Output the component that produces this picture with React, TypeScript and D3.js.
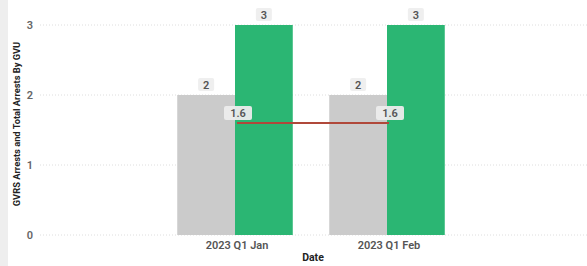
import React, { useEffect, useRef } from 'react';
import * as d3 from 'd3';

const categories = ['2023 Q1 Jan', '2023 Q1 Feb'];
const seriesNames = ['GVRS Arrests', 'Total Arrests By GVU'];
const gvrsArrests = [2, 2];
const totalArrests = [3, 3];
const averageLine = [1.6, 1.6];
const yTicks = [0, 1, 2, 3];

const W = 587;
const H = 266;

function App() {
    const svgRef = useRef<SVGSVGElement>(null);

    useEffect(() => {
        if (!svgRef.current) return;
        const svg = d3.select(svgRef.current);
        svg.selectAll('*').remove();

        const font = 'Roboto, "Noto Sans", sans-serif';

        // left panel strip
        svg.append('rect').attr('x', 0).attr('y', 0).attr('width', 8).attr('height', H).attr('fill', '#eeeeee');

        const xScale = d3.scaleBand().domain(categories).range([159, 463]).paddingInner(0.24).paddingOuter(0.12);
        const sub = d3.scaleBand().domain(seriesNames).range([0, xScale.bandwidth()]);
        const yScale = d3.scaleLinear().domain([0, 3]).range([235, 25]);

        // grid lines
        svg.append('g')
            .selectAll('line')
            .data(yTicks)
            .join('line')
            .attr('x1', 40)
            .attr('x2', W)
            .attr('y1', d => yScale(d))
            .attr('y2', d => yScale(d))
            .attr('stroke', '#dedede')
            .attr('stroke-width', 1)
            .attr('stroke-dasharray', '1,2');

        // y tick labels
        svg.append('g')
            .selectAll('text')
            .data(yTicks)
            .join('text')
            .attr('x', 33)
            .attr('y', d => yScale(d))
            .attr('dy', '0.35em')
            .attr('text-anchor', 'end')
            .attr('font-family', font)
            .attr('font-size', 11)
            .attr('font-weight', 600)
            .attr('fill', '#666')
            .text(d => d);

        const seriesData = [
            { name: seriesNames[0], values: gvrsArrests, color: '#cbcbcb' },
            { name: seriesNames[1], values: totalArrests, color: '#2bb673' },
        ];

        seriesData.forEach(s => {
            const g = svg.append('g');
            g.selectAll('rect')
                .data(s.values)
                .join('rect')
                .attr('x', (d, i) => (xScale(categories[i]) as number) + (sub(s.name) as number))
                .attr('y', d => yScale(d))
                .attr('width', sub.bandwidth())
                .attr('height', d => yScale(0) - yScale(d))
                .attr('fill', s.color);

            // value labels
            s.values.forEach((v, i) => {
                const cx = (xScale(categories[i]) as number) + (sub(s.name) as number) + sub.bandwidth() / 2;
                const cy = yScale(v) - 10;
                g.append('rect')
                    .attr('x', cx - 8)
                    .attr('y', cy - 7)
                    .attr('width', 16)
                    .attr('height', 13)
                    .attr('rx', 2)
                    .attr('fill', '#efefef');
                g.append('text')
                    .attr('x', cx)
                    .attr('y', cy)
                    .attr('dy', '0.35em')
                    .attr('text-anchor', 'middle')
                    .attr('font-family', font)
                    .attr('font-size', 11)
                    .attr('font-weight', 600)
                    .attr('fill', '#555')
                    .text(v);
            });
        });

        // average line
        const lineX = (i: number) => (xScale(categories[i]) as number) + xScale.bandwidth() / 2 + 2;
        const line = d3.line<number>()
            .x((d, i) => lineX(i))
            .y(d => yScale(d));
        svg.append('path')
            .datum(averageLine)
            .attr('fill', 'none')
            .attr('stroke', '#b0483a')
            .attr('stroke-width', 2)
            .attr('d', line);

        averageLine.forEach((v, i) => {
            const cx = lineX(i) + 1;
            const cy = yScale(v) - 10;
            svg.append('rect')
                .attr('x', cx - 14)
                .attr('y', cy - 7)
                .attr('width', 28)
                .attr('height', 14)
                .attr('rx', 2)
                .attr('fill', '#ececec')
                .attr('opacity', 0.95);
            svg.append('text')
                .attr('x', cx)
                .attr('y', cy)
                .attr('dy', '0.35em')
                .attr('text-anchor', 'middle')
                .attr('font-family', font)
                .attr('font-size', 11)
                .attr('font-weight', 600)
                .attr('fill', '#555')
                .text(v);
        });

        // x tick labels
        svg.append('g')
            .selectAll('text')
            .data(categories)
            .join('text')
            .attr('x', d => (xScale(d) as number) + xScale.bandwidth() / 2 + 2)
            .attr('y', 245)
            .attr('dy', '0.35em')
            .attr('text-anchor', 'middle')
            .attr('font-family', font)
            .attr('font-size', 11)
            .attr('font-weight', 600)
            .attr('fill', '#555')
            .text(d => d);

        // axis titles
        svg.append('text')
            .attr('x', 313)
            .attr('y', 257)
            .attr('dy', '0.35em')
            .attr('text-anchor', 'middle')
            .attr('font-family', font)
            .attr('font-size', 10.5)
            .attr('font-weight', 700)
            .attr('fill', '#222')
            .text('Date');

        svg.append('text')
            .attr('transform', `translate(17, 124) rotate(-90)`)
            .attr('dy', '0.35em')
            .attr('text-anchor', 'middle')
            .attr('font-family', font)
            .attr('font-size', 9.3)
            .attr('font-weight', 700)
            .attr('fill', '#222')
            .text('GVRS Arrests and Total Arrests By GVU');
    }, []);

    return <svg ref={svgRef} width={W} height={H} style={{ position: 'absolute', left: 0, top: 0, background: '#fff' }} />;
}

export default App;
